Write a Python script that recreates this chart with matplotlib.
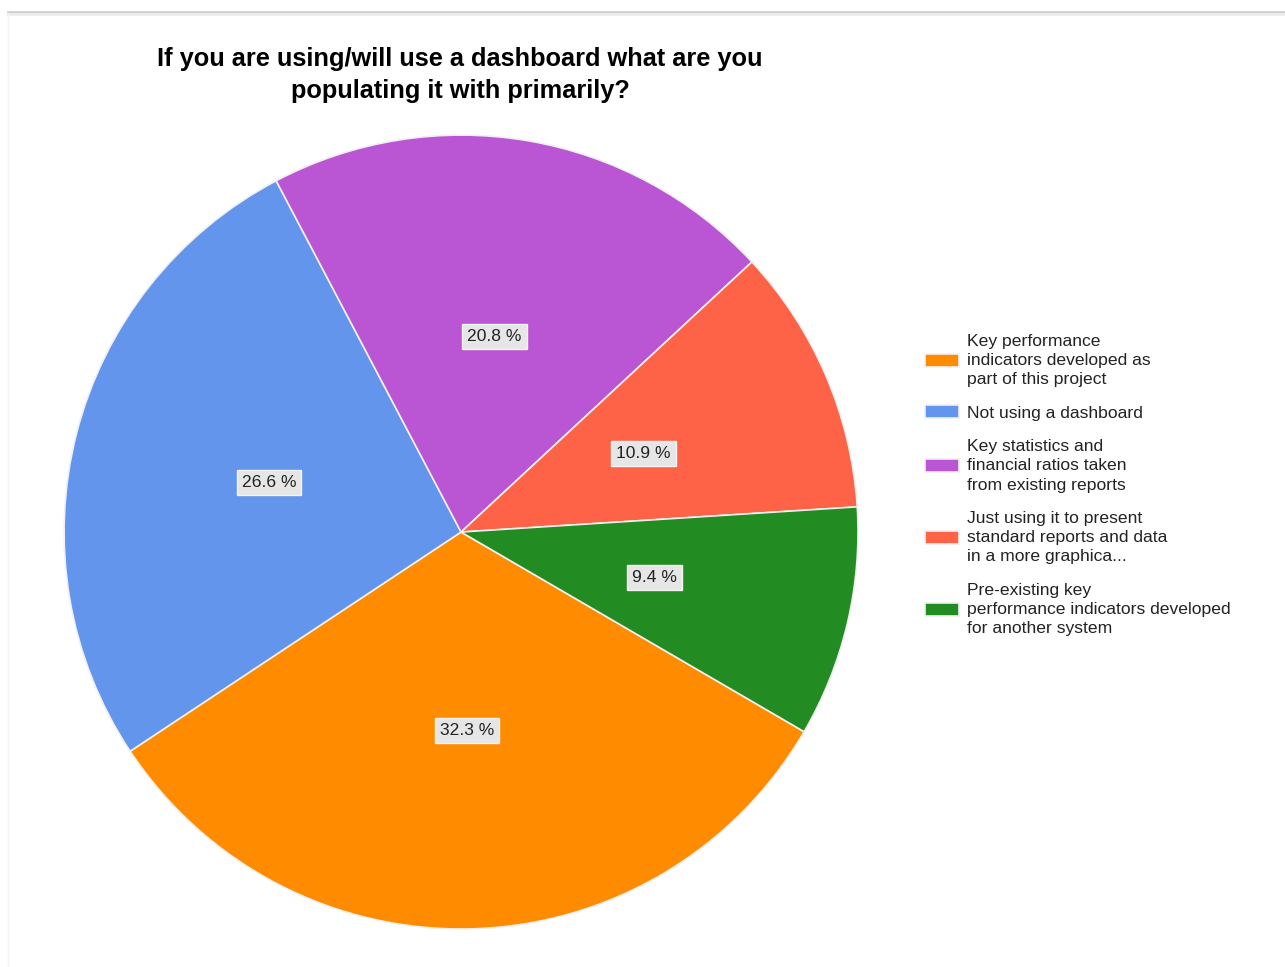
import matplotlib.pyplot as plt
from matplotlib.lines import Line2D

plt.rcParams['font.family'] = ['Liberation Sans', 'DejaVu Sans']

# data
categories = ['Key performance\nindicators developed as\npart of this project',
              'Not using a dashboard',
              'Key statistics and\nfinancial ratios taken\nfrom existing reports',
              'Just using it to present\nstandard reports and data\nin a more graphica...',
              'Pre-existing key\nperformance indicators developed\nfor another system']
values = [32.3, 26.6, 20.8, 10.9, 9.4]
colors = ['#FF8C00', '#6495ED', '#BA55D3', '#FF6347', '#228B22']

fig = plt.figure(figsize=(12.85, 9.67), dpi=100)
fig.patch.set_facecolor('white')

# frame line at the top (screenshot edge)
fig.add_artist(Line2D([0.006, 1.0], [0.988, 0.988], color='#d0d0d0', lw=2))
fig.add_artist(Line2D([0.006, 1.0], [0.986, 0.986], color='#ececec', lw=2))
fig.add_artist(Line2D([0.0065, 0.0065], [0.0, 0.987], color='#f3f3f3', lw=1))

ax = fig.add_axes([0.0498, 0.0393, 0.618, 0.821])
wedges, texts, autotexts = ax.pie(
    values, colors=colors, startangle=-30.2, counterclock=False,
    autopct=lambda p: '%.1f %%' % p, pctdistance=0.5,
    wedgeprops=dict(edgecolor='#f0f0f0', linewidth=1.2))
for t in autotexts:
    t.set_fontsize(12.6)
    t.set_color('#222222')
    t.set_bbox(dict(boxstyle='square,pad=0.28', facecolor='#e6e6e6', edgecolor='#f4f4f4', linewidth=1))
ax.set_xlim(-1, 1)
ax.set_ylim(-1, 1)
ax.set_aspect('equal')

fig.text(0.358, 0.9225, 'If you are using/will use a dashboard what are you\npopulating it with primarily?',
         ha='center', va='center', fontsize=18.3, fontweight='bold', linespacing=1.38)

leg = fig.legend(wedges, categories, loc='upper left', bbox_to_anchor=(0.7198, 0.655),
                 frameon=False, fontsize=12.6, handlelength=1.95, handleheight=0.75,
                 handletextpad=0.46, labelspacing=1.06, borderpad=0, borderaxespad=0)
for t in leg.get_texts():
    t.set_color('#222222')
    t.set_linespacing(1.34)

fig.savefig('out.png', dpi=100, facecolor='white')
